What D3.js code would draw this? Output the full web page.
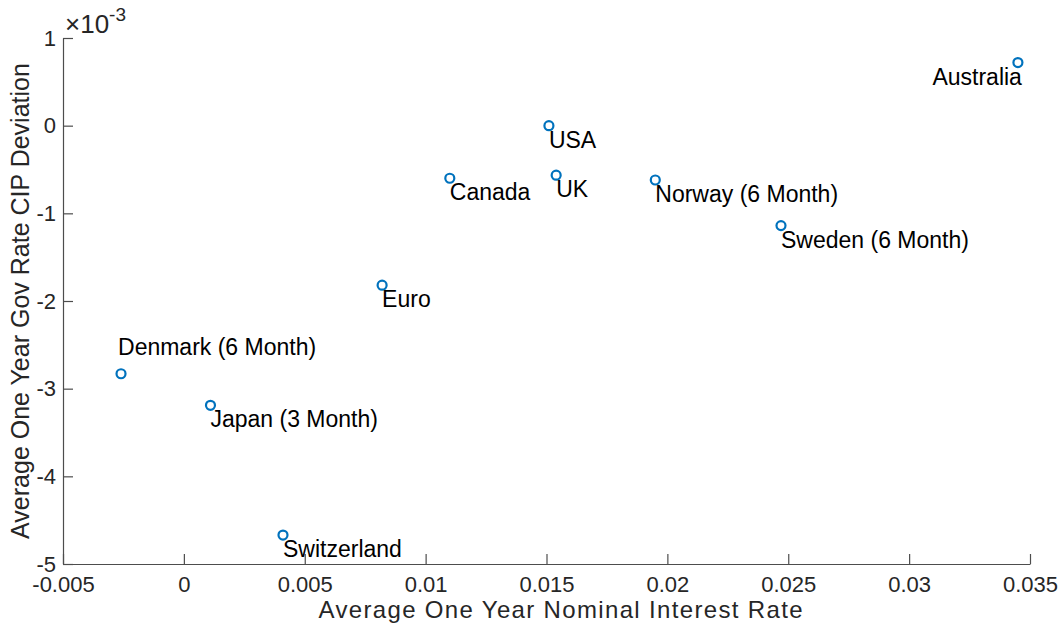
<!DOCTYPE html>
<html>
<head>
<meta charset="utf-8">
<script src="https://cdn.jsdelivr.net/npm/d3@7"></script>
<style>
  body { margin: 0; background: #fff; }
  svg { display: block; font-family: "Liberation Sans", Arial, Helvetica, sans-serif; }
</style>
</head>
<body>
<svg id="chart" width="1062" height="629"></svg>
<script>
// ----- data ----- //
const countries = ["Australia", "USA", "UK", "Canada", "Norway (6 Month)", "Sweden (6 Month)",
                   "Euro", "Denmark (6 Month)", "Japan (3 Month)", "Switzerland"];
const nominalRate = [0.0345, 0.0151, 0.0154, 0.0110, 0.0195, 0.0247, 0.0082, -0.0026, 0.0011, 0.0041];
const cipDeviation = [0.72e-3, 0.0e-3, -0.565e-3, -0.60e-3, -0.62e-3, -1.14e-3, -1.82e-3, -2.83e-3, -3.19e-3, -4.67e-3];

const xTicks = [-0.005, 0, 0.005, 0.01, 0.015, 0.02, 0.025, 0.03, 0.035];
const yTicks = [-5, -4, -3, -2, -1, 0, 1]; // in units of 1e-3

// ----- layout ----- //
const margin = {left: 63, right: 32, top: 38, bottom: 65};
const width = 1062 - margin.left - margin.right;
const height = 629 - margin.top - margin.bottom;
const axisColor = "#4d4d4d";

const svg = d3.select("#chart");
const g = svg.append("g").attr("transform", `translate(${margin.left},${margin.top})`);

const x = d3.scaleLinear().domain([-0.005, 0.035]).range([0, width]);
const y = d3.scaleLinear().domain([-5e-3, 1e-3]).range([height, 0]);

// X axis (ticks inside), plain hyphen for negatives like MATLAB
const axeX = d3.axisBottom(x)
    .tickValues(xTicks)
    .tickSizeInner(-10).tickSizeOuter(0)
    .tickPadding(12)
    .tickFormat(d => String(+d.toFixed(3)));

const groupeX = g.append("g").attr("transform", `translate(0,${height})`).call(axeX);

// Y axis (ticks inside)
const axeY = d3.axisLeft(y)
    .tickValues(yTicks.map(v => v * 1e-3))
    .tickSizeInner(-10).tickSizeOuter(0)
    .tickPadding(7)
    .tickFormat(d => String(Math.round(d * 1e3)));

const groupeY = g.append("g").call(axeY);

[groupeX, groupeY].forEach(ax => {
  ax.select(".domain").attr("stroke", axisColor).attr("stroke-width", 1.2);
  ax.selectAll(".tick line").attr("stroke", axisColor).attr("stroke-width", 1.2);
  ax.selectAll(".tick text")
    .attr("fill", "#262626")
    .style("font-size", "22px")
    .style("font-family", "'Liberation Sans', Arial, sans-serif");
});
groupeX.selectAll(".tick text").attr("dy", "0.71em");

// exponent label
const expo = g.append("text")
    .attr("x", 2).attr("y", -5)
    .attr("fill", "#262626")
    .style("font-size", "26px");
expo.append("tspan").text("\u00d710");
expo.append("tspan").attr("dy", -12).style("font-size", "19px").text("-3");

// axis labels
g.append("text")
    .attr("text-anchor", "middle")
    .attr("x", width / 2 + 14)
    .attr("y", height + 54)
    .attr("fill", "#262626")
    .attr("textLength", 484)
    .style("font-size", "24px")
    .text("Average One Year Nominal Interest Rate");

g.append("text")
    .attr("text-anchor", "middle")
    .attr("transform", `translate(${-34},${height / 2}) rotate(-90)`)
    .attr("fill", "#262626")
    .style("font-size", "25px")
    .text("Average One Year Gov Rate CIP Deviation");

// ----- points ----- //
const points = countries.map((c, i) => ({name: c, rx: nominalRate[i], dev: cipDeviation[i]}));

g.selectAll("circle.pt")
  .data(points)
  .enter()
  .append("circle")
  .attr("class", "pt")
  .attr("cx", d => x(d.rx))
  .attr("cy", d => y(d.dev))
  .attr("r", 4.5)
  .attr("fill", "none")
  .attr("stroke", "#0072BD")
  .attr("stroke-width", 2.2);

// labels: below right by default, Denmark above, Australia to the left
const dxLabel = d => d.name === "Denmark (6 Month)" ? -3 : (d.name === "Australia" ? 4 : 0);
g.selectAll("text.lbl")
  .data(points)
  .enter()
  .append("text")
  .attr("class", "lbl")
  .attr("x", d => x(d.rx) + dxLabel(d))
  .attr("y", d => y(d.dev) + (d.name === "Denmark (6 Month)" ? -19 : 22))
  .attr("text-anchor", d => d.name === "Australia" ? "end" : "start")
  .attr("fill", "#000")
  .style("font-size", "23px")
  .text(d => d.name);
</script>
</body>
</html>
